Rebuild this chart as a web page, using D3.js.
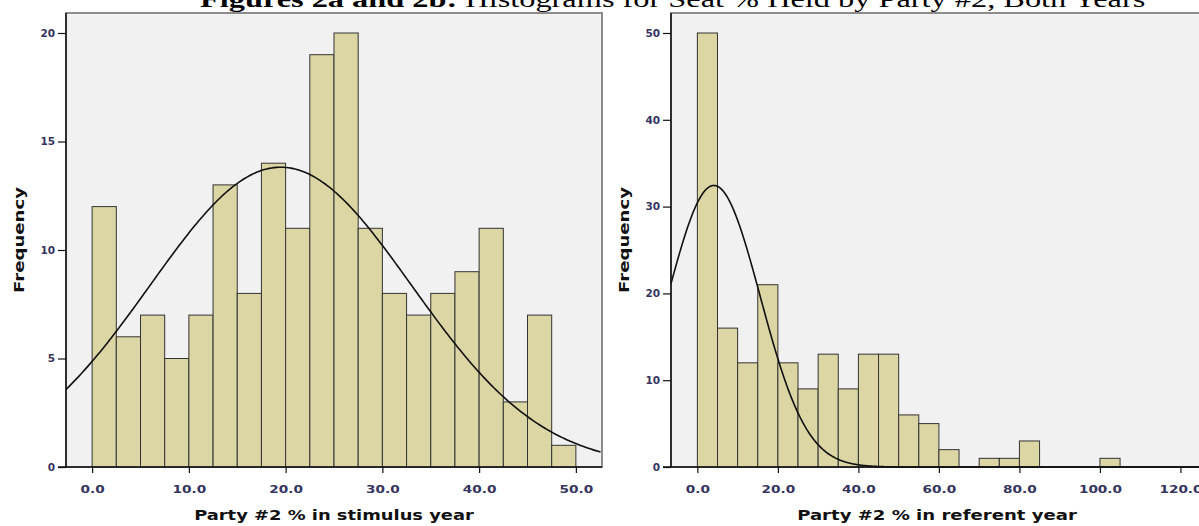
<!DOCTYPE html>
<meta charset="utf-8">
<script src="https://cdn.jsdelivr.net/npm/d3@7"></script>
<style>
  body { margin: 0; background: #fff; }
  svg { display: block; }
</style>
<div id="chart"></div>
<script>
// histogram counts
var leftCounts = [12, 6, 7, 5, 7, 13, 8, 14, 11, 19, 20, 11, 8, 7, 8, 9, 11, 3, 7, 1];
var leftBinWidth = 2.5;
var leftTicks = [0, 10, 20, 30, 40, 50];
var leftYTicks = [0, 5, 10, 15, 20];
var leftFit = {n: 187, mean: 19.5, sd: 13.5};

var rightCounts = [50, 16, 12, 21, 12, 9, 13, 9, 13, 13, 6, 5, 2, 0, 1, 1, 3, 0, 0, 0, 1];
var rightBinWidth = 5;
var rightTicks = [0, 20, 40, 60, 80, 100, 120];
var rightYTicks = [0, 10, 20, 30, 40, 50];
var rightFit = {n: 187, mean: 4.1, sd: 11.5};

var titleBold = "Figures 2a and 2b:";
var titleRest = " Histograms for Seat % Held by Party #2, Both Years";

var svg = d3.select("#chart").append("svg")
    .attr("width", 1199)
    .attr("height", 526);

// scale factor so a text covers a given width
function fitText(t, width) {
  var w = t.node().getComputedTextLength();
  return width / w;
}

// title (cut at the top in the original)
var title = svg.append("text")
    .attr("font-family", "'Liberation Serif', 'Times New Roman', serif")
    .attr("font-size", 24)
    .attr("fill", "#000");
title.append("tspan").attr("font-weight", "bold").text(titleBold);
title.append("tspan").text(titleRest);
title.attr("transform", "translate(200,7) scale(" + fitText(title, 946) + ",1)");

function histogram(opts) {
  var x = d3.scaleLinear().domain(opts.xDomain).range([opts.left, opts.right]);
  var y = d3.scaleLinear().domain(opts.yDomain).range([467, 33]);
  var top = 13;

  var g = svg.append("g");

  // plot background
  g.append("rect")
      .attr("x", opts.left)
      .attr("y", top)
      .attr("width", opts.right - opts.left)
      .attr("height", y(0) - top)
      .attr("fill", "#f1f1f1")
      .attr("stroke", "#8c8c8c")
      .attr("stroke-width", 2);

  // bars
  var bars = opts.counts.map(function (c, i) {
    return {x0: i * opts.binWidth, x1: (i + 1) * opts.binWidth, count: c};
  }).filter(function (d) { return d.count > 0; });

  g.append("g")
    .selectAll("rect")
    .data(bars)
    .enter()
    .append("rect")
      .attr("x", function (d) { return x(d.x0); })
      .attr("y", function (d) { return y(d.count); })
      .attr("width", function (d) { return x(d.x1) - x(d.x0); })
      .attr("height", function (d) { return y(0) - y(d.count); })
      .attr("fill", "#dbd6a3")
      .attr("stroke", "#333")
      .attr("stroke-width", 1);

  // fitted normal curve
  var f = opts.fit;
  var peak = f.n * opts.binWidth / (f.sd * Math.sqrt(2 * Math.PI));
  var xs = d3.range(opts.xDomain[0], opts.xDomain[1], 0.25);
  var line = d3.line()
      .x(function (d) { return x(d); })
      .y(function (d) { return y(peak * Math.exp(-0.5 * Math.pow((d - f.mean) / f.sd, 2))); });
  g.append("path")
      .datum(xs)
      .attr("d", line)
      .attr("fill", "none")
      .attr("stroke", "#111")
      .attr("stroke-width", 1.6);

  // y axis
  var yAxis = g.append("g")
      .attr("transform", "translate(" + opts.left + ",0)")
      .call(d3.axisLeft(y).tickValues(opts.yTicks).tickSize(8).tickPadding(3).tickFormat(d3.format("d")));
  yAxis.select(".domain").attr("stroke", "#111").attr("stroke-width", 1.5)
      .attr("d", "M0," + top + "V" + y(0));

  // x axis
  var xAxis = g.append("g")
      .attr("transform", "translate(0," + y(0) + ")")
      .call(d3.axisBottom(x).tickValues(opts.xTicks).tickSize(6).tickPadding(13).tickFormat(d3.format(".1f")));
  xAxis.select(".domain").attr("stroke", "#111").attr("stroke-width", 1.5)
      .attr("d", "M" + (opts.left - 8) + ",0H" + opts.right);

  g.selectAll(".tick line").attr("stroke", "#111").attr("stroke-width", 1.2);
  g.selectAll(".tick text")
      .attr("font-family", "'DejaVu Sans', sans-serif")
      .attr("font-weight", "bold")
      .attr("font-size", 10.5)
      .attr("fill", "#34345e");
  xAxis.selectAll(".tick text").attr("transform", "scale(1.3,1)");

  // axis titles
  var xt = g.append("text")
      .attr("font-family", "'DejaVu Sans', sans-serif")
      .attr("font-weight", "bold")
      .attr("font-size", 14)
      .attr("text-anchor", "middle")
      .attr("fill", "#111")
      .text(opts.xTitle);
  xt.attr("transform", "translate(" + opts.titleX + ",520) scale(" + fitText(xt, 280) + ",1)");

  var yt = g.append("text")
      .attr("font-family", "'DejaVu Sans', sans-serif")
      .attr("font-weight", "bold")
      .attr("font-size", 14)
      .attr("text-anchor", "middle")
      .attr("fill", "#111")
      .text("Frequency");
  yt.attr("transform", "translate(" + opts.freqX + ",240) rotate(-90) scale(" + fitText(yt, 106) + ",1)");
}

histogram({
  counts: leftCounts, binWidth: leftBinWidth, fit: leftFit,
  xDomain: [-2.7, 52.7], yDomain: [0, 20], left: 66, right: 602,
  xTicks: leftTicks, yTicks: leftYTicks,
  xTitle: "Party #2 % in stimulus year", titleX: 334, freqX: 24
});

histogram({
  counts: rightCounts, binWidth: rightBinWidth, fit: rightFit,
  xDomain: [-6.55, 125.6], yDomain: [0, 50], left: 671, right: 1203,
  xTicks: rightTicks, yTicks: rightYTicks,
  xTitle: "Party #2 % in referent year", titleX: 937, freqX: 629
});
</script>
